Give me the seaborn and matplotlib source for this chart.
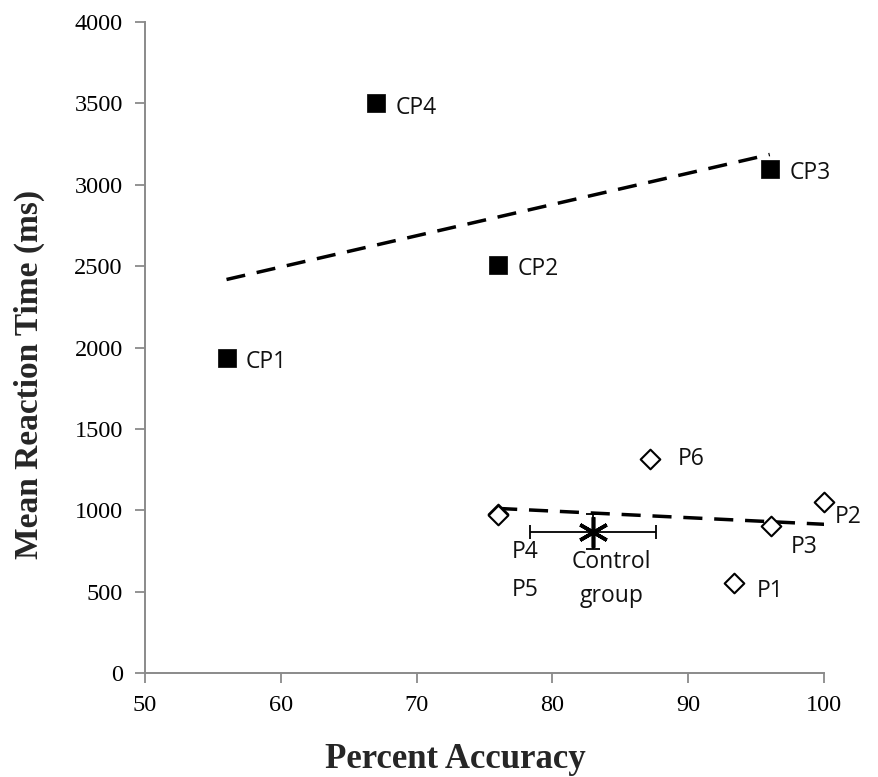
import seaborn as sns
import matplotlib.pyplot as plt
import pandas as pd

# patients with cerebral palsy (filled squares)
cp_labels = ["CP1", "CP2", "CP3", "CP4"]
cp_acc = [56.0, 76.0, 96.0, 67.0]
cp_rt = [1935, 2505, 3095, 3500]

# other patients (open diamonds)
p_labels = ["P1", "P2", "P3", "P4", "P5", "P6"]
p_acc = [93.4, 100.0, 96.1, 76.0, 76.0, 87.2]
p_rt = [555, 1050, 905, 975, 970, 1318]

# control group mean +/- error
ctrl_acc = 83.0
ctrl_rt = 868
ctrl_acc_err = 4.65
ctrl_rt_err = 107

x_ticks = [50, 60, 70, 80, 90, 100]
y_ticks = [0, 500, 1000, 1500, 2000, 2500, 3000, 3500, 4000]

cp = pd.DataFrame({"label": cp_labels, "acc": cp_acc, "rt": cp_rt})
pp = pd.DataFrame({"label": p_labels, "acc": p_acc, "rt": p_rt})

sns.set_style("ticks")
plt.rcParams['font.family'] = ['Liberation Serif', 'DejaVu Serif']

fig = plt.figure(figsize=(8.79, 7.77), dpi=100)
ax = fig.add_axes([0.165, 0.1338, 0.7725, 0.8379])

dash = dict(color="black", lw=2.5, ls=(0, (5.5, 3.4)))
sns.regplot(data=cp, x="acc", y="rt", scatter=False, ci=None, line_kws=dash, ax=ax)
sns.regplot(data=pp, x="acc", y="rt", scatter=False, ci=None, line_kws=dash, ax=ax)

sns.scatterplot(data=cp, x="acc", y="rt", marker="s", s=160, color="black",
                edgecolor="black", linewidth=0.5, ax=ax, zorder=3, clip_on=False)
sns.scatterplot(data=pp, x="acc", y="rt", marker="D", s=100, facecolor="white",
                edgecolor="black", linewidth=1.5, ax=ax, zorder=3, clip_on=False)

ax.errorbar([ctrl_acc], [ctrl_rt], xerr=[ctrl_acc_err], yerr=[ctrl_rt_err],
            fmt="none", ecolor="black", elinewidth=1.3, capsize=5, capthick=1.3, zorder=4)
ax.plot([ctrl_acc], [ctrl_rt], marker=(6, 2, 0), ms=22, mew=2.6, color="black",
        ls="none", zorder=5)

lab_font = dict(family="Open Sans", fontsize=16.5, color="#111111")
for _, r in cp.iterrows():
    ax.annotate(r["label"], (r["acc"], r["rt"]), xytext=(14, -3), textcoords="offset points",
                ha="left", va="center", **lab_font)

p_offsets = {"P1": (16, -6), "P2": (8, -11), "P3": (14, -15), "P4": (10, -27),
             "P5": (10, -54), "P6": (20, 0)}
for _, r in pp.iterrows():
    ax.annotate(r["label"], (r["acc"], r["rt"]), xytext=p_offsets[r["label"]],
                textcoords="offset points", ha="left", va="center", **lab_font)

ax.annotate("Control\ngroup", (ctrl_acc, ctrl_rt), xytext=(13, -13), textcoords="offset points",
            ha="center", va="top", linespacing=1.55, **lab_font)

ax.set_xlim(50, 100)
ax.set_ylim(0, 4000)
ax.set_xticks(x_ticks)
ax.set_yticks(y_ticks)
ax.tick_params(axis="both", labelsize=17.5, length=7, width=1.3, color="#8a8a8a",
               direction="out", pad=9, labelcolor="black")

ax.set_xlabel("Percent Accuracy", fontsize=25, fontweight="bold")
ax.set_ylabel("Mean Reaction Time (ms)", fontsize=24, fontweight="bold")
ax.xaxis.set_label_coords(0.457, -0.108)
ax.yaxis.set_label_coords(-0.148, 0.458)

sns.despine(ax=ax)
for side in ["left", "bottom"]:
    ax.spines[side].set_color("#8a8a8a")
    ax.spines[side].set_linewidth(1.4)

fig.savefig("out.png", dpi=100)
